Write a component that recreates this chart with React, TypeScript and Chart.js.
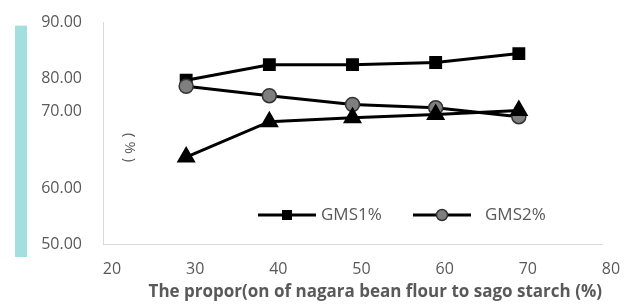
import React, { useEffect, useRef } from "react";
import { Chart, registerables } from "chart.js";

Chart.register(...registerables);

const xValues = [30, 40, 50, 60, 70];
const gms1 = [79.6, 82.4, 82.4, 82.8, 84.4];
const gms2 = [78.5, 76.8, 75.2, 74.6, 73.0];
const gms3 = [65.7, 72.1, 72.8, 73.4, 74.1];
const seriesNames = ["GMS1%", "GMS2%", "GMS3%"];
const yTickValues = [50, 60, 74, 80, 90];
const yTickLabels = ["50.00", "60.00", "70.00", "80.00", "90.00"];
const xTitle = "The propor(on of nagara bean flour to sago starch (%)";
const yTitle = "( % )";

const FONT = "'Open Sans', sans-serif";
const GRAY = "#595959";

const decorPlugin = {
  id: "decor",
  beforeDraw(chart: any) {
    const { ctx, chartArea } = chart;
    ctx.save();
    ctx.fillStyle = "#a3dfdf";
    ctx.fillRect(15, chartArea.top + 3, 12, chartArea.bottom - chartArea.top + 10);
    ctx.restore();
  },
  afterDraw(chart: any) {
    const { ctx, chartArea } = chart;
    ctx.save();
    ctx.translate(chartArea.left + 26, chartArea.top + 125);
    ctx.rotate(Math.PI / 2);
    ctx.fillStyle = GRAY;
    ctx.font = `15px ${FONT}`;
    ctx.textAlign = "center";
    ctx.textBaseline = "middle";
    ctx.fillText(yTitle, 0, 0);
    ctx.restore();

    const items = [
      { ds: 0, x0: chartArea.left + 155 },
      { ds: 1, x0: chartArea.left + 310 },
    ];
    const ly = chartArea.bottom - 29;
    items.forEach(({ ds, x0 }) => {
      const dataset = chart.data.datasets[ds];
      ctx.save();
      ctx.strokeStyle = "#000";
      ctx.lineWidth = 3;
      ctx.beginPath();
      ctx.moveTo(x0, ly);
      ctx.lineTo(x0 + 58, ly);
      ctx.stroke();
      const cx = x0 + 29;
      if (dataset.pointStyle === "rect") {
        ctx.fillStyle = "#000";
        ctx.fillRect(cx - 5, ly - 5, 10, 10);
      } else {
        ctx.beginPath();
        ctx.arc(cx, ly, 5.5, 0, Math.PI * 2);
        ctx.fillStyle = dataset.pointBackgroundColor;
        ctx.fill();
        ctx.lineWidth = 1.5;
        ctx.strokeStyle = "#333";
        ctx.stroke();
      }
      ctx.fillStyle = GRAY;
      ctx.font = `17px ${FONT}`;
      ctx.textAlign = "left";
      ctx.textBaseline = "middle";
      ctx.fillText(dataset.label, x0 + (ds === 0 ? 63 : 72), ly);
      ctx.restore();
    });
  },
};

export default function App() {
  const ref = useRef<HTMLCanvasElement>(null);
  useEffect(() => {
    document.body.style.margin = "0";
    const toPts = (arr: number[]) => xValues.map((x, i) => ({ x, y: arr[i] }));
    const chart = new Chart(ref.current!, {
      type: "line",
      data: {
        datasets: [
          {
            label: seriesNames[0],
            data: toPts(gms1),
            borderColor: "#000",
            borderWidth: 3,
            pointStyle: "rect",
            pointRadius: 7,
            pointBackgroundColor: "#000",
            pointBorderColor: "#000",
            order: 2,
          },
          {
            label: seriesNames[1],
            data: toPts(gms2),
            borderColor: "#000",
            borderWidth: 3,
            pointStyle: "circle",
            pointRadius: 7,
            pointBackgroundColor: "#7f7f7f",
            pointBorderColor: "#333",
            pointBorderWidth: 1.5,
            order: 1,
          },
          {
            label: seriesNames[2],
            data: toPts(gms3),
            borderColor: "#000",
            borderWidth: 3,
            pointStyle: "triangle",
            pointRadius: 8,
            pointBackgroundColor: "#000",
            pointBorderColor: "#000",
            order: 0,
          },
        ],
      },
      options: {
        animation: false,
        responsive: false,
        layout: { padding: { top: 17, right: 22, left: 0, bottom: 2 } },
        plugins: { legend: { display: false }, tooltip: { enabled: false } },
        scales: {
          x: {
            type: "linear",
            min: 20,
            max: 80,
            grid: { display: false },
            border: { display: true, color: "#d9d9d9", width: 1 },
            ticks: {
              stepSize: 10,
              color: GRAY,
              font: { family: FONT, size: 16 },
              padding: 8,
              labelOffset: 9,
            },
            title: {
              display: true,
              text: xTitle,
              align: "end",
              color: GRAY,
              font: { family: FONT, size: 17, weight: "bold" },
              padding: { top: 0, bottom: 0 },
            },
            afterFit(scale: any) {
              scale.height = 58;
            },
          },
          y: {
            type: "linear",
            min: 50,
            max: 90,
            grid: { display: false },
            border: { display: true, color: "#d9d9d9", width: 1 },
            afterBuildTicks(scale: any) {
              scale.ticks = yTickValues.map((v) => ({ value: v }));
            },
            ticks: {
              color: GRAY,
              font: { family: FONT, size: 16 },
              padding: 13,
              callback: (v: any) => {
                const i = yTickValues.indexOf(Number(v));
                return i >= 0 ? yTickLabels[i] : "";
              },
            },
            afterFit(scale: any) {
              scale.width = 103;
            },
          },
        },
      },
      plugins: [decorPlugin],
    });
    return () => chart.destroy();
  }, []);
  return (
    <div style={{ width: 624, height: 304, background: "#fff" }}>
      <canvas ref={ref} width={624} height={304} style={{ display: "block" }} />
    </div>
  );
}
